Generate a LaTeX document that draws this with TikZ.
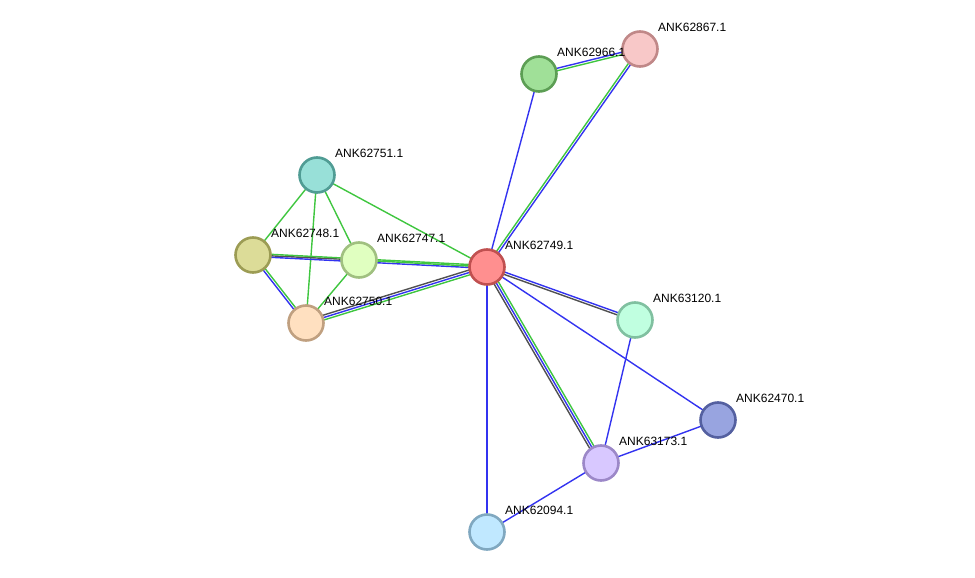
\documentclass[tikz,border=0pt]{standalone}
\usepackage{fontspec}
\setmainfont{Liberation Sans}
\usetikzlibrary{calc,backgrounds}
\definecolor{eg}{HTML}{3FC63F}
\definecolor{eb}{HTML}{3333F0}
\definecolor{ek}{HTML}{505050}
\tikzset{
  prot/.style={circle,minimum size=35pt,inner sep=0pt,line width=2.6pt},
  lbl/.style={anchor=west,inner sep=0pt,font=\fontsize{12pt}{14pt}\selectfont},
  edge/.style={line width=1.4pt}
}
\newcommand\lnk[4]{\draw[edge,#4] ($(#1.center)!#3!90:(#2.center)$) -- ($(#2.center)!#3!-90:(#1.center)$);}
\begin{document}
\begin{tikzpicture}[x=1pt,y=-1pt]
\useasboundingbox (0,0) rectangle (975,578);
\node[prot,fill={rgb,255:red,255;green,143;blue,143},draw={rgb,255:red,192;green,80;blue,80}] (n49) at (487,267) {};
\node[prot,fill={rgb,255:red,160;green,224;blue,152},draw={rgb,255:red,92;green,158;blue,84}] (n66) at (539,74) {};
\node[prot,fill={rgb,255:red,248;green,200;blue,200},draw={rgb,255:red,192;green,136;blue,136}] (n67) at (640,49) {};
\node[prot,fill={rgb,255:red,152;green,224;blue,216},draw={rgb,255:red,80;green,156;blue,148}] (n51) at (317,175) {};
\node[prot,fill={rgb,255:red,220;green,220;blue,152},draw={rgb,255:red,156;green,156;blue,84}] (n48) at (253,255) {};
\node[prot,fill={rgb,255:red,224;green,255;blue,192},draw={rgb,255:red,160;green,192;blue,128}] (n47) at (359,260) {};
\node[prot,fill={rgb,255:red,255;green,224;blue,192},draw={rgb,255:red,192;green,160;blue,128}] (n50) at (306,323) {};
\node[prot,fill={rgb,255:red,192;green,255;blue,224},draw={rgb,255:red,128;green,192;blue,160}] (n20) at (635,320) {};
\node[prot,fill={rgb,255:red,152;green,164;blue,224},draw={rgb,255:red,84;green,96;blue,160}] (n70) at (718,420) {};
\node[prot,fill={rgb,255:red,216;green,200;blue,255},draw={rgb,255:red,156;green,136;blue,200}] (n73) at (601,463) {};
\node[prot,fill={rgb,255:red,192;green,232;blue,255},draw={rgb,255:red,128;green,168;blue,192}] (n94) at (487,532) {};
\begin{pgfonlayer}{background}
\lnk{n51}{n48}{0pt}{eg}
\lnk{n51}{n50}{0pt}{eg}
\lnk{n51}{n47}{0pt}{eg}
\lnk{n51}{n49}{0pt}{eg}
\lnk{n48}{n47}{0pt}{ek}
\lnk{n48}{n49}{1.6pt}{eg}
\lnk{n48}{n49}{-1.4pt}{eb}
\lnk{n47}{n49}{0pt}{eg}
\lnk{n48}{n50}{-1.2pt}{eb}
\lnk{n48}{n50}{1.2pt}{eg}
\lnk{n47}{n50}{0pt}{eg}
\lnk{n50}{n49}{2.4pt}{ek}
\lnk{n50}{n49}{0pt}{eb}
\lnk{n50}{n49}{-2.4pt}{eg}
\lnk{n49}{n66}{0pt}{eb}
\lnk{n49}{n67}{1.2pt}{eg}
\lnk{n49}{n67}{-1.2pt}{eb}
\lnk{n66}{n67}{1.2pt}{eb}
\lnk{n66}{n67}{-1.2pt}{eg}
\lnk{n49}{n20}{1.2pt}{eb}
\lnk{n49}{n20}{-1.2pt}{ek}
\lnk{n49}{n70}{0pt}{eb}
\lnk{n49}{n73}{-2.4pt}{ek}
\lnk{n49}{n73}{0pt}{eb}
\lnk{n49}{n73}{2.4pt}{eg}
\lnk{n49}{n94}{0pt}{eb}
\lnk{n20}{n73}{0pt}{eb}
\lnk{n70}{n73}{0pt}{eb}
\lnk{n73}{n94}{0pt}{eb}
\end{pgfonlayer}
\node[lbl] (l49) at ($(n49)+(18,-22)$) {ANK62749.1};
\node[lbl] (l66) at ($(n66)+(18,-22)$) {ANK62966.1};
\node[lbl] (l67) at ($(n67)+(18,-22)$) {ANK62867.1};
\node[lbl] (l51) at ($(n51)+(18,-22)$) {ANK62751.1};
\node[lbl] (l48) at ($(n48)+(18,-22)$) {ANK62748.1};
\node[lbl] (l47) at ($(n47)+(18,-22)$) {ANK62747.1};
\node[lbl] (l50) at ($(n50)+(18,-22)$) {ANK62750.1};
\node[lbl] (l20) at ($(n20)+(18,-22)$) {ANK63120.1};
\node[lbl] (l70) at ($(n70)+(18,-22)$) {ANK62470.1};
\node[lbl] (l73) at ($(n73)+(18,-22)$) {ANK63173.1};
\node[lbl] (l94) at ($(n94)+(18,-22)$) {ANK62094.1};
\end{tikzpicture}
\end{document}
